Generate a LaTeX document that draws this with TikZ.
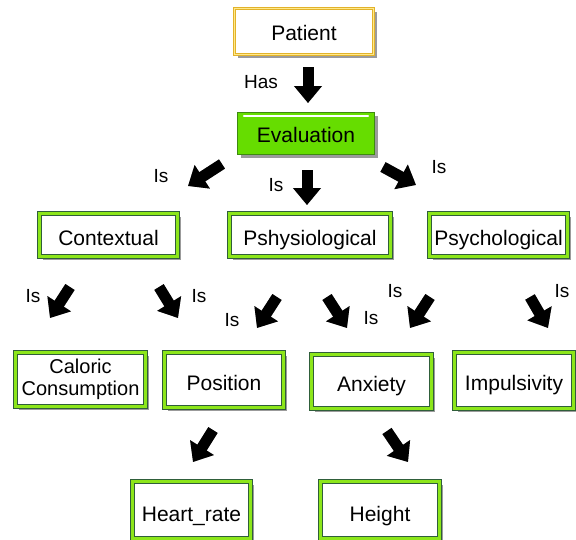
\documentclass[tikz,border=0pt]{standalone}
\usepackage{fontspec}
\setmainfont{Liberation Sans}
\usetikzlibrary{arrows.meta,shadows}
\definecolor{limeband}{HTML}{8CE61A}
\definecolor{boxdark}{HTML}{2F5E3A}
\definecolor{evalfill}{HTML}{66DD00}
\definecolor{evaledge}{HTML}{3E8A10}
\definecolor{goldedge}{HTML}{E2B22A}
\definecolor{goldband}{HTML}{FFE98A}
\newcommand{\boxfont}{\fontsize{21}{23}\selectfont}
\newcommand{\calfont}{\fontsize{20}{22}\selectfont}
\newcommand{\lblfont}{\fontsize{19}{21}\selectfont}
\begin{document}
\begin{tikzpicture}[x=1pt,y=-1pt,
  boxshadow/.style={drop shadow={shadow xshift=3.5pt,shadow yshift=-3.5pt,fill=black!60,opacity=0.65}},
  gbox/.style={draw=boxdark,line width=0.8pt,double=limeband,double distance=3.6pt,
    fill=white,font=\boxfont,align=center,inner sep=0pt,boxshadow},
  oneline/.style={text height=20pt,text depth=0pt},
  pbox/.style={draw=goldedge,line width=0.7pt,double=goldband,double distance=1.8pt,
    fill=white,font=\boxfont,align=center,inner sep=0pt,boxshadow,text height=17pt,text depth=0pt},
  ebox/.style={draw=evaledge,line width=1.2pt,fill=evalfill,font=\boxfont,
    align=center,inner sep=0pt,boxshadow,text height=17.5pt,text depth=0pt},
  fat/.style={line width=11pt,-{Triangle[length=17pt,width=27pt]}},
  lbl/.style={font=\lblfont,inner sep=0pt}]
\useasboundingbox (0,0) rectangle (576,539);

% boxes
\node[pbox,minimum width=139pt,minimum height=46pt] (patient) at (304,31.5) {Patient};
\node[ebox,minimum width=137pt,minimum height=42pt] (eval) at (306,133.5) {Evaluation};
\draw[white,line width=2.2pt,line cap=round] ([xshift=7pt,yshift=-4pt]eval.north west) -- ([xshift=-7pt,yshift=-4pt]eval.north east);

\node[gbox,oneline,minimum width=138pt,minimum height=43pt] (ctx) at (108.5,235) {Contextual};
\node[gbox,oneline,minimum width=161pt,minimum height=43pt] (phys) at (310,235) {Pshysiological};
\node[gbox,oneline,minimum width=138pt,minimum height=43pt] (psych) at (498.5,235) {Psychological};

\node[gbox,font=\calfont,minimum width=130pt,minimum height=54pt] (cal) at (80.5,379.5) {Caloric\\[0pt]Consumption};
\node[gbox,oneline,minimum width=119pt,minimum height=55pt] (pos) at (224,380) {Position};
\node[gbox,oneline,minimum width=120pt,minimum height=54pt] (anx) at (371.5,381.5) {Anxiety};
\node[gbox,oneline,minimum width=119pt,minimum height=56pt] (imp) at (514,380.5) {Impulsivity};

\node[gbox,oneline,minimum width=118pt,minimum height=57pt,text height=23pt] (heart) at (191.5,510) {Heart\_rate};
\node[gbox,oneline,minimum width=119pt,minimum height=57pt,text height=22pt] (height) at (380,510) {Height};

% arrow end points
\coordinate (s1) at (308,67);   \coordinate (e1) at (308,103);
\coordinate (s2) at (222,164);  \coordinate (e2) at (188,186);
\coordinate (s3) at (307,170);  \coordinate (e3) at (307,205);
\coordinate (s4) at (383,167);  \coordinate (e4) at (416,185);
\coordinate (s5) at (70,287);   \coordinate (e5) at (50,318);
\coordinate (s6) at (159,287);  \coordinate (e6) at (178,318);
\coordinate (s7) at (277,297);  \coordinate (e7) at (257,328);
\coordinate (s8) at (327,297);  \coordinate (e8) at (347,328);
\coordinate (s9) at (430,297);  \coordinate (e9) at (410,328);
\coordinate (s10) at (530,297); \coordinate (e10) at (548,328);
\coordinate (s11) at (213,430); \coordinate (e11) at (193,462);
\coordinate (s12) at (387,431); \coordinate (e12) at (408,462);

% block arrows with soft shadow
\foreach \i in {1,...,12}{
  \begin{scope}[shift={(2.5,2.5)}]
    \draw[fat,black!35] (s\i) -- (e\i);
  \end{scope}
  \draw[fat,black] (s\i) -- (e\i);
}

% labels
\node[lbl] (lhas) at (261,82) {Has};
\node[lbl] (l2) at (161,176) {Is};
\node[lbl] (l3) at (276,185) {Is};
\node[lbl] (l4) at (439,167) {Is};
\node[lbl] (l5) at (33,296) {Is};
\node[lbl] (l6) at (199,296) {Is};
\node[lbl] (l7) at (232,320) {Is};
\node[lbl] (l8) at (371,318) {Is};
\node[lbl] (l9) at (395,291) {Is};
\node[lbl] (l10) at (562,291) {Is};
\end{tikzpicture}
\end{document}
